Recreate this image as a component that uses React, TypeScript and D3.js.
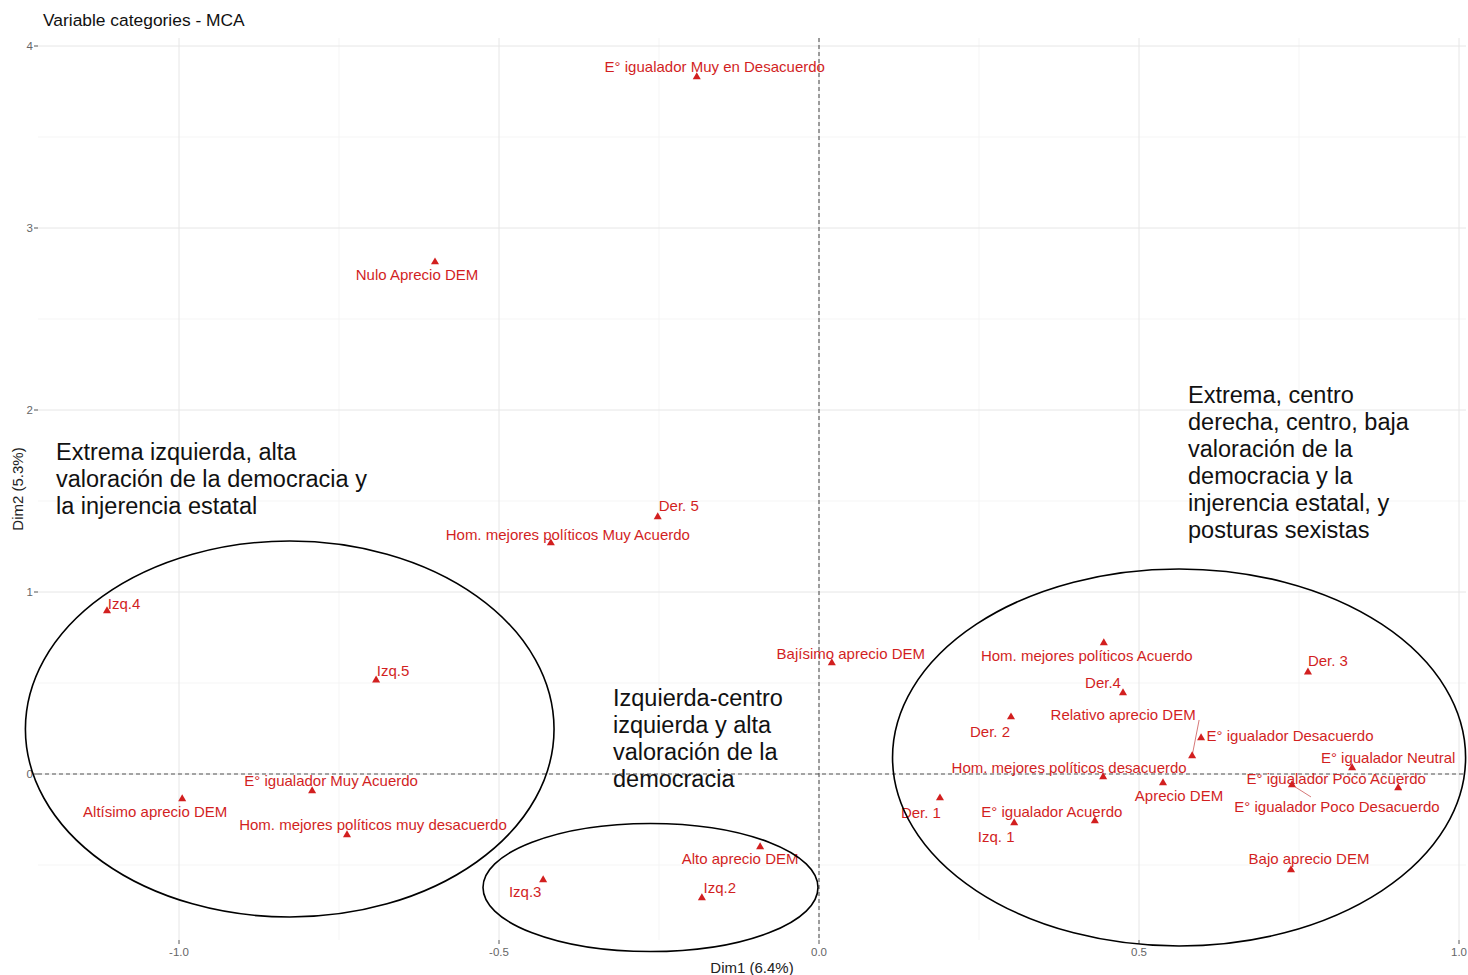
import React from "react";
import * as d3 from "d3";

// ---------- DATA ----------
const categories: string[] = [
  "E° igualador Muy en Desacuerdo",
  "Nulo Aprecio DEM",
  "Der. 5",
  "Hom. mejores políticos Muy Acuerdo",
  "Izq.4",
  "Izq.5",
  "Bajísimo aprecio DEM",
  "E° igualador Muy Acuerdo",
  "Altísimo aprecio DEM",
  "Hom. mejores políticos muy desacuerdo",
  "Izq.3",
  "Alto aprecio DEM",
  "Izq.2",
  "Hom. mejores políticos Acuerdo",
  "Der. 3",
  "Der.4",
  "Der. 2",
  "Relativo aprecio DEM",
  "E° igualador Desacuerdo",
  "E° igualador Neutral",
  "E° igualador Poco Acuerdo",
  "E° igualador Poco Desacuerdo",
  "Hom. mejores políticos desacuerdo",
  "Aprecio DEM",
  "Der. 1",
  "E° igualador Acuerdo",
  "Izq. 1",
  "Bajo aprecio DEM",
];
const dim1: number[] = [
  -0.191, -0.6, -0.252, -0.419, -1.1125, -0.692, 0.02, -0.792, -0.995, -0.7375,
  -0.431, -0.092, -0.183, 0.445, 0.764, 0.475, 0.3, 0.583, 0.597, 0.833, 0.905,
  0.739, 0.444, 0.5375, 0.189, 0.431, 0.305, 0.7375,
];
const dim2: number[] = [
  3.83, 2.813, 1.412, 1.269, 0.896, 0.516, 0.61, -0.093, -0.137, -0.335, -0.582,
  -0.401, -0.681, 0.72, 0.56, 0.445, 0.313, 0.099, 0.198, 0.033, -0.077, -0.06,
  -0.016, -0.049, -0.132, -0.258, -0.269, -0.527,
];
const xTicks: number[] = [-1.0, -0.5, 0.0, 0.5, 1.0];
const xTickLabels: string[] = ["-1.0", "-0.5", "0.0", "0.5", "1.0"];
const yTicks: number[] = [0, 1, 2, 3, 4];

// group ellipses (center x, center y, radius x, radius y) in data units
const groupCx: number[] = [-0.827, -0.2633, 0.5626];
const groupCy: number[] = [0.247, -0.6236, 0.0907];
const groupRx: number[] = [0.413, 0.2617, 0.4477];
const groupRy: number[] = [1.033, 0.352, 1.036];
const groupText: string[][] = [
  ["Extrema izquierda, alta", "valoración de la democracia y", "la injerencia estatal"],
  ["Izquierda-centro", "izquierda y alta", "valoración de la", "democracia"],
  [
    "Extrema, centro",
    "derecha, centro, baja",
    "valoración de la",
    "democracia y la",
    "injerencia estatal, y",
    "posturas sexistas",
  ],
];

// ---------- LAYOUT (label repel offsets, px) ----------
const labelDx: number[] = [18, -18, 21, 17, 17, 17, 19, 19, -27, 26, -18, -20, 18, -17, 20, -20, -21, -69, 89, 36, -62, 45, -34, 16, -19, -43, -18, 18];
const labelDy: number[] = [-10, 13, -11, -8, -7, -9, -9, -10, 13, -10, 12, 12, -10, 13, -11, -10, 15, -41, -2, -10, -9, 22, -9, 13, 15, -9, 14, -11];
const withSegment: number[] = [17, 21];
const textX: number[] = [56, 613, 1188];
const textY: number[] = [460, 706, 403];

const W = 1468;
const H = 975;
const panel = { left: 38, right: 1466, top: 38, bottom: 940 };
const RED = "#d21f1f";

export default function App() {
  const x = d3.scaleLinear().domain([-1, 1]).range([179, 1459]);
  const y = d3.scaleLinear().domain([0, 4]).range([774, 46]);
  const xMinor = [-0.75, -0.25, 0.25, 0.75];
  const yMinor = [-0.5, 0.5, 1.5, 2.5, 3.5];
  const tri = d3.symbol().type(d3.symbolTriangle).size(28)() as string;
  const font = "'Liberation Sans', Arial, sans-serif";

  return (
    <svg
      width={W}
      height={H}
      style={{ position: "absolute", left: 0, top: 0, background: "#fff", fontFamily: font }}
    >
      <rect x={0} y={0} width={W} height={H} fill="#fff" />
      {/* grid */}
      {xMinor.map((v) => (
        <line key={"xm" + v} x1={x(v)} x2={x(v)} y1={panel.top} y2={panel.bottom} stroke="#f0f0f0" strokeWidth={0.7} />
      ))}
      {yMinor.map((v) => (
        <line key={"ym" + v} y1={y(v)} y2={y(v)} x1={panel.left} x2={panel.right} stroke="#f0f0f0" strokeWidth={0.7} />
      ))}
      {xTicks.map((v) => (
        <line key={"xg" + v} x1={x(v)} x2={x(v)} y1={panel.top} y2={panel.bottom} stroke="#e6e6e6" strokeWidth={1} />
      ))}
      {yTicks.map((v) => (
        <line key={"yg" + v} y1={y(v)} y2={y(v)} x1={panel.left} x2={panel.right} stroke="#e6e6e6" strokeWidth={1} />
      ))}
      {/* zero lines */}
      <line x1={x(0)} x2={x(0)} y1={panel.top} y2={panel.bottom} stroke="#555" strokeWidth={1.1} strokeDasharray="4,3" />
      <line y1={y(0)} y2={y(0)} x1={panel.left} x2={panel.right} stroke="#555" strokeWidth={1.1} strokeDasharray="4,3" />
      {/* axes ticks */}
      {xTicks.map((v, i) => (
        <g key={"xt" + v}>
          <line x1={x(v)} x2={x(v)} y1={panel.bottom} y2={panel.bottom + 4} stroke="#555" strokeWidth={1} />
          <text x={x(v)} y={panel.bottom + 16} textAnchor="middle" fontSize={11.5} fill="#666">
            {xTickLabels[i]}
          </text>
        </g>
      ))}
      {yTicks.map((v) => (
        <g key={"yt" + v}>
          <line x1={panel.left - 4} x2={panel.left} y1={y(v)} y2={y(v)} stroke="#555" strokeWidth={1} />
          <text x={panel.left - 5} y={y(v) + 4} textAnchor="end" fontSize={11.5} fill="#666">
            {v}
          </text>
        </g>
      ))}
      {/* axis titles */}
      <text x={(panel.left + panel.right) / 2} y={973} textAnchor="middle" fontSize={15} fill="#222">
        Dim1 (6.4%)
      </text>
      <text
        transform={`translate(23,${(panel.top + panel.bottom) / 2}) rotate(-90)`}
        textAnchor="middle"
        fontSize={15}
        fill="#222"
      >
        Dim2 (5.3%)
      </text>
      <text x={43} y={26} fontSize={17.4} fill="#111">
        Variable categories - MCA
      </text>
      {/* segments */}
      {withSegment.map((i) => {
        const px = x(dim1[i]);
        const py = y(dim2[i]);
        const sx = i === 17 ? px + 7 : px + 19;
        const sy = i === 17 ? py + labelDy[i] + 5 : py + labelDy[i] - 10;
        return <line key={"s" + i} x1={px} y1={py} x2={sx} y2={sy} stroke="#c55" strokeWidth={0.8} />;
      })}
      {/* points */}
      {categories.map((c, i) => (
        <path key={"p" + i} d={tri} transform={`translate(${x(dim1[i])},${y(dim2[i])})`} fill={RED} />
      ))}
      {/* labels */}
      {categories.map((c, i) => (
        <text
          key={"l" + i}
          x={x(dim1[i]) + labelDx[i]}
          y={y(dim2[i]) + labelDy[i] + 5}
          textAnchor="middle"
          fontSize={15}
          fill={RED}
        >
          {c}
        </text>
      ))}
      {/* group ellipses */}
      {groupCx.map((cx, i) => (
        <ellipse
          key={"e" + i}
          cx={x(cx)}
          cy={y(groupCy[i])}
          rx={x(groupRx[i]) - x(0)}
          ry={y(0) - y(groupRy[i])}
          fill="none"
          stroke="#000"
          strokeWidth={1.6}
        />
      ))}
      {/* group annotation texts */}
      {groupText.map((lines, i) => (
        <text key={"g" + i} x={textX[i]} y={textY[i]} fontSize={23.5} fill="#111">
          {lines.map((ln, j) => (
            <tspan key={j} x={textX[i]} dy={j === 0 ? 0 : 27}>
              {ln}
            </tspan>
          ))}
        </text>
      ))}
    </svg>
  );
}
